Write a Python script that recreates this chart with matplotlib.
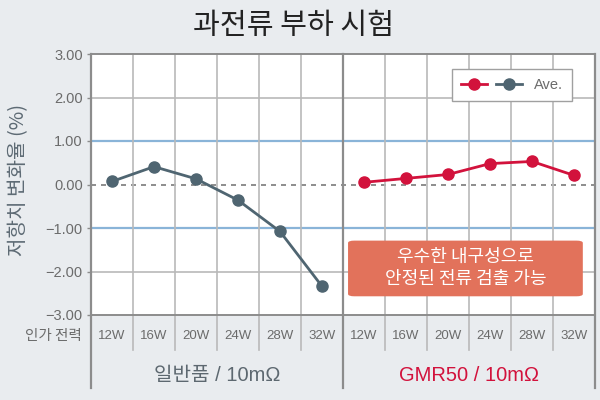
import matplotlib.pyplot as plt
from matplotlib.patches import FancyBboxPatch
from matplotlib.legend_handler import HandlerTuple

plt.rcParams['font.family'] = ['Noto Sans CJK KR', 'DejaVu Sans']

watts = ['12W', '16W', '20W', '24W', '28W', '32W']
normal_vals = [0.07, 0.41, 0.13, -0.36, -1.08, -2.34]
gmr_vals = [0.05, 0.14, 0.23, 0.48, 0.53, 0.21]
yticks = [3, 2, 1, 0, -1, -2, -3]
groups = ['일반품 / 10mΩ', 'GMR50 / 10mΩ']

BG = '#e9ecef'
GRID = '#b9b9b9'
FRAME = '#8c8c8c'
BLUE = '#8ab4d8'
DARK = '#4f6571'
RED = '#d2123c'
TXT = '#6b6b6b'
LAT = ['Liberation Sans', 'Noto Sans CJK KR', 'DejaVu Sans']

fig = plt.figure(figsize=(6, 4), dpi=100, facecolor=BG)
ax = fig.add_axes([91 / 600, 85 / 400, 504 / 600, 261 / 400])
ax.set_facecolor('white')
ax.set_xlim(0, 12)
ax.set_ylim(-3, 3)

# grid
for v in yticks:
    if v == 0:
        ax.axhline(v, color='#7a7a7a', lw=1.2, ls=(0, (3, 3)), zorder=1)
    elif abs(v) == 1:
        ax.axhline(v, color=BLUE, lw=1.6, zorder=1)
    elif abs(v) == 2:
        ax.axhline(v, color=GRID, lw=1.2, zorder=1)

xt = ax.get_xaxis_transform()
for i in range(1, 12):
    if i == 6:
        continue
    ax.plot([i, i], [-0.134, 1], color=GRID, lw=1.2, transform=xt, clip_on=False, zorder=1)
for i in [0, 6, 12]:
    ax.plot([i, i], [-0.28, 1], color=FRAME, lw=1.6, transform=xt, clip_on=False, zorder=3)

for s in ['left', 'right']:
    ax.spines[s].set_visible(False)
ax.spines['top'].set_color(FRAME)
ax.spines['bottom'].set_color(FRAME)
ax.spines['top'].set_linewidth(1.4)
ax.spines['bottom'].set_linewidth(1.4)

ax.set_xticks([])
ax.set_yticks(yticks)
ax.set_yticklabels(['%.2f' % v if v >= 0 else '\u2212%.2f' % -v for v in yticks],
                   fontsize=10.5, color=TXT, family=LAT)
ax.tick_params(axis='y', length=3, width=1, color=FRAME, pad=3)

# lines
x_left = [i + 0.5 for i in range(6)]
x_right = [i + 6.5 for i in range(6)]
l_dark, = ax.plot(x_left, normal_vals, color=DARK, lw=2, marker='o', ms=8, zorder=5)
l_red, = ax.plot(x_right, gmr_vals, color=RED, lw=2, marker='o', ms=8, zorder=5)

leg = ax.legend([(l_red, l_dark)], ['Ave.'], handler_map={tuple: HandlerTuple(ndivide=None, pad=0.6)},
                loc='upper right', bbox_to_anchor=(0.954, 0.9425), borderaxespad=0,
                fancybox=False, framealpha=1, edgecolor='#a0a0a0', handlelength=4.2,
                borderpad=0.6, handletextpad=0.8, prop={'family': LAT, 'size': 10.5})
for t in leg.get_texts():
    t.set_color(TXT)

# callout
box = FancyBboxPatch((6.12, -2.57), 5.59, 1.28, boxstyle='round,pad=0,rounding_size=0.15',
                     fc='#e2725b', ec='none', zorder=6, mutation_aspect=0.35)
ax.add_patch(box)
ax.text(8.92, -1.66, '우수한 내구성으로', color='white', ha='center', va='center', fontsize=13, zorder=7)
ax.text(8.92, -2.17, '안정된 전류 검출 가능', color='white', ha='center', va='center', fontsize=13, zorder=7)

# x table
for i, w in enumerate(watts):
    for off in [0, 6]:
        ax.text(i + off + 0.5, -0.08, w, transform=xt, ha='center', va='center', fontsize=9.5,
                color=TXT, family=LAT)
ax.text(3, -0.23, groups[0], transform=xt, ha='center', va='center', fontsize=14.5,
        color='#5d6870', family=LAT)
ax.text(9, -0.23, groups[1], transform=xt, ha='center', va='center', fontsize=14.5,
        color=RED, family=LAT)

fig.text(82 / 600, 1 - 336 / 400, '인가 전력', ha='right', va='center', fontsize=10.5, color=TXT)
fig.text(19 / 600, 1 - 180 / 400, '저항치 변화율 (%)', rotation=90, ha='center', va='center',
         fontsize=14.5, color='#5d6a74')
fig.text(0.49, 1 - 26 / 400, '과전류 부하 시험', ha='center', va='center', fontsize=21, color='#222222')

fig.savefig('out.png', dpi=100, facecolor=BG)
